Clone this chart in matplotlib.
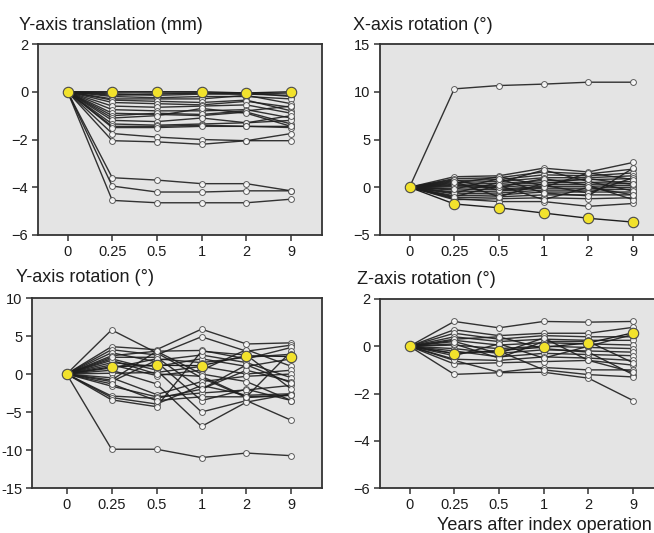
import numpy as np
import matplotlib
matplotlib.use('Agg')
import matplotlib.pyplot as plt

plt.rcParams['font.family'] = ['Liberation Sans', 'DejaVu Sans']

time_labels = ['0', '0.25', '0.5', '1', '2', '9']

# Y-axis translation (mm), one row per patient
ytrans = [
    [0, -0.05, -0.05, -0.05, -0.1, -0.05],
    [0, -0.1, -0.15, -0.1, -0.1, -0.15],
    [0, -0.15, -0.1, -0.05, -0.05, -0.2],
    [0, -0.2, -0.25, -0.2, -0.2, -0.3],
    [0, -0.3, -0.3, -0.3, -0.15, -0.5],
    [0, -0.35, -0.4, -0.45, -0.35, -0.8],
    [0, -0.45, -0.5, -0.55, -0.4, -0.65],
    [0, -0.6, -0.65, -0.6, -0.55, -0.9],
    [0, -0.75, -0.8, -0.8, -0.75, -1.1],
    [0, -0.9, -0.95, -1.0, -0.85, -1.35],
    [0, -1.0, -0.9, -0.95, -0.8, -0.6],
    [0, -1.1, -1.0, -0.7, -0.9, -1.45],
    [0, -1.2, -1.25, -1.1, -1.3, -1.2],
    [0, -1.35, -1.4, -1.35, -1.3, -1.0],
    [0, -1.45, -1.45, -1.4, -1.45, -1.5],
    [0, -1.5, -1.5, -1.45, -1.45, -1.45],
    [0, -1.75, -1.9, -2.0, -2.05, -1.75],
    [0, -2.05, -2.1, -2.2, -2.05, -2.05],
    [0, -3.6, -3.7, -3.85, -3.85, -4.15],
    [0, -3.95, -4.2, -4.2, -4.15, -4.15],
    [0, -4.55, -4.65, -4.65, -4.65, -4.5],
]
ytrans_mean = [0, 0.0, 0.0, 0.0, -0.05, 0.0]

# X-axis rotation (deg)
xrot = [
    [0, 10.3, 10.65, 10.8, 11.0, 11.0],
    [0, 1.1, 1.2, 2.0, 1.6, 2.6],
    [0, 0.9, 1.0, 1.6, 1.4, 1.9],
    [0, 0.7, 0.8, 1.3, 1.2, 1.5],
    [0, 0.5, 0.6, 1.0, 1.0, 1.2],
    [0, 0.3, 0.4, 0.7, 0.8, 0.9],
    [0, 0.1, 0.2, 0.5, 0.5, 0.6],
    [0, -0.1, 0.0, 0.3, 0.3, 0.4],
    [0, -0.3, -0.2, 0.1, 0.1, 0.2],
    [0, -0.5, -0.4, -0.1, -0.1, 0.0],
    [0, -0.7, -0.6, -0.3, -0.3, -0.2],
    [0, -0.9, -0.8, -0.5, -0.5, -0.5],
    [0, -1.1, -1.0, -0.8, -0.8, -0.8],
    [0, -1.3, -1.2, -1.1, -1.2, -1.1],
    [0, -1.2, -1.5, -1.5, -2.0, -1.7],
    [0, 0.4, 1.1, 0.2, -0.6, 1.0],
    [0, -0.6, 0.5, 1.8, 0.6, -0.4],
    [0, 0.8, -0.3, 0.0, 1.5, 0.8],
    [0, 0.2, 0.0, 0.9, 0.2, -1.3],
    [0, -0.2, 0.9, -0.6, -0.9, 2.0],
    [0, 0.6, -1.0, 0.4, 0.9, 0.3],
    [0, -1.0, 0.2, -1.3, 0.0, -0.8],
]
xrot_mean = [0, -1.75, -2.15, -2.7, -3.25, -3.65]

# Y-axis rotation (deg)
yrot = [
    [0, 5.8, 2.8, -0.5, -3.1, -2.8],
    [0, 3.6, 3.2, 5.9, 3.95, 4.1],
    [0, 3.2, 2.5, 4.9, 3.0, 3.8],
    [0, 2.8, 1.6, -3.5, -2.0, -3.5],
    [0, 2.4, 3.0, 3.1, 2.0, 3.5],
    [0, 2.0, 0.5, -5.0, -3.5, -6.1],
    [0, 1.5, 1.0, 2.0, 1.0, 2.0],
    [0, 1.2, -0.2, 0.5, 3.2, 1.0],
    [0, 0.5, -1.3, -6.9, -3.7, -2.6],
    [0, 0.1, 0.2, 1.0, 0.0, 0.5],
    [0, -0.5, -2.7, -1.0, -0.3, 0.0],
    [0, -1.0, 1.8, 2.5, 1.5, -0.5],
    [0, -1.6, -3.0, -2.5, -2.1, -1.5],
    [0, -2.9, -3.2, -2.0, 0.5, -1.0],
    [0, -3.1, -3.95, -1.5, -2.8, -2.6],
    [0, -3.4, -4.3, 3.0, 2.5, -2.0],
    [0, -0.8, 3.0, 0.0, -1.0, -3.5],
    [0, 1.8, 0.0, -0.3, -3.0, 3.0],
    [0, 2.2, 2.2, -2.0, 1.2, -1.2],
    [0, -1.3, -3.5, -3.0, -3.0, -2.8],
    [0, 0.8, 2.0, 1.5, 2.2, 2.6],
    [0, -9.9, -9.9, -11.0, -10.4, -10.75],
]
yrot_mean = [0, 0.95, 1.15, 1.1, 2.4, 2.3]

# Z-axis rotation (deg)
zrot = [
    [0, 1.05, 0.78, 1.05, 1.02, 1.05],
    [0, 0.7, 0.45, 0.55, 0.55, 0.8],
    [0, 0.55, 0.3, 0.45, 0.4, 0.4],
    [0, 0.4, 0.2, 0.3, 0.25, 0.25],
    [0, 0.25, 0.05, 0.15, 0.1, 0.05],
    [0, 0.05, -0.1, 0.0, -0.05, -0.1],
    [0, -0.1, -0.3, -0.15, -0.2, -0.25],
    [0, -0.2, -0.45, -0.3, -0.35, -0.4],
    [0, -0.55, -0.6, -0.45, -0.5, -0.6],
    [0, -0.75, -0.7, -0.65, -0.6, -0.8],
    [0, -0.6, -1.1, -0.9, -1.0, -1.0],
    [0, -1.19, -1.12, -1.1, -1.35, -2.3],
    [0, 0.3, 0.4, -0.1, -0.25, -1.2],
    [0, -0.3, -0.2, -1.0, -1.2, -1.3],
    [0, 0.1, -0.5, 0.2, 0.2, -0.7],
    [0, -0.4, 0.1, -0.5, 0.0, 0.5],
    [0, 0.2, -0.3, 0.35, -0.6, -1.1],
]
zrot_mean = [0, -0.31, -0.18, -0.04, 0.14, 0.57]

panels = [
    # title, data, mean, rect(px: left, top, right, bottom), xlim, yticks, yticklabels, title pos
    ('Y-axis translation (mm)', ytrans, ytrans_mean, (38, 44, 322, 235), (-0.66, 5.69),
     [2, 0, -2, -4, -6], ['2', '0', '\u22122', '\u22124', '\u22126'], (19, 26)),
    ('X-axis rotation (\u00b0)', xrot, xrot_mean, (380, 44, 664, 235), (-0.66, 5.69),
     [15, 10, 5, 0, -5], ['15', '10', '5', '0', '\u22125'], (353, 26)),
    ('Y-axis rotation (\u00b0)', yrot, yrot_mean, (32, 298, 322, 488), (-0.77, 5.68),
     [10, 5, 0, -5, -10, -15], ['10', '5', '0', '\u22125', '-10', '-15'], (16, 278)),
    ('Z-axis rotation (\u00b0)', zrot, zrot_mean, (380, 299, 664, 488), (-0.66, 5.69),
     [2, 0, -2, -4, -6], ['2', '0', '\u22122', '\u22124', '\u22126'], (357, 279)),
]

W, H = 654, 533
fig = plt.figure(figsize=(W / 100, H / 100), dpi=100)
x = np.arange(len(time_labels))
txt = '#1c1c1c'

for title, data, mean, (l, t, r, b), xlim, yt, ytl, (tx, ty) in panels:
    ax = fig.add_axes([l / W, 1 - b / H, (r - l) / W, (b - t) / H])
    ax.set_facecolor('#e4e4e4')
    for row in data:
        ax.plot(x, row, '-', color='#1e1e1e', lw=1.0, alpha=0.9,
                marker='o', ms=4.2, mfc='white', mec='#4a4a4a', mew=0.7, zorder=2)
    ax.plot(x, mean, '-', color='#1e1e1e', lw=1.0, marker='o', ms=7.5,
            mfc='#f2e22c', mec='#4a4a4a', mew=0.8, zorder=3)
    ax.set_xlim(*xlim)
    ax.set_ylim(yt[-1], yt[0])
    ax.set_xticks(x)
    ax.set_xticklabels(time_labels)
    ax.set_yticks(yt)
    ax.set_yticklabels(ytl)
    ax.tick_params(direction='out', length=4, width=1.1, color='#333333',
                   labelsize=10.5, labelcolor=txt, pad=3)
    for s in ax.spines.values():
        s.set_color('#333333')
        s.set_linewidth(1.3)
    fig.text(tx / W, 1 - ty / H, title, fontsize=13, color=txt, ha='left', va='center')

fig.text(652 / W, 1 - 525 / H, 'Years after index operation', fontsize=13, color=txt,
         ha='right', va='center')

fig.savefig('out.png', dpi=100)
